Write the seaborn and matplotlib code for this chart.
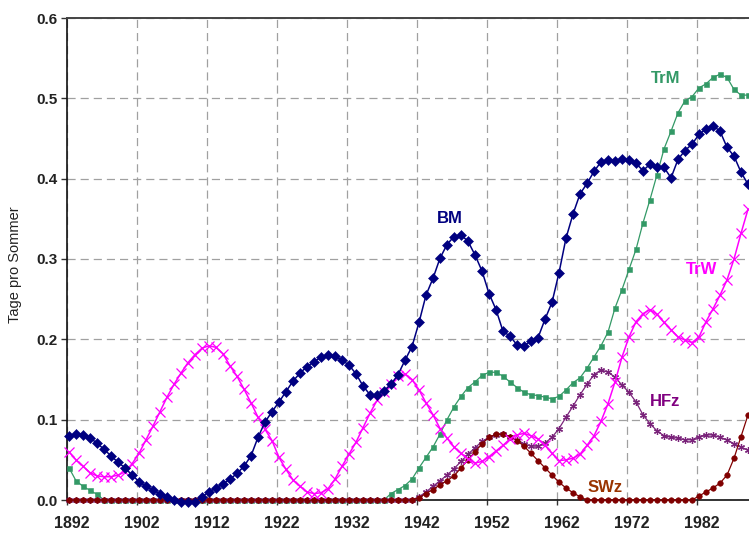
import matplotlib
matplotlib.use("Agg")
import matplotlib.pyplot as plt
import seaborn as sns
import pandas as pd

# ---- data: days per summer, one value per year 1892-1989 ----
years = list(range(1892, 1990))

bm = [
    0.080, 0.082, 0.081, 0.077, 0.071, 0.063, 0.055, 0.047, 0.040, 0.031,   # 1892-1901
    0.023, 0.017, 0.012, 0.008, 0.004, 0.000, -0.002, -0.002, -0.002, 0.004,  # 1902-1911
    0.010, 0.015, 0.020, 0.026, 0.033, 0.042, 0.055, 0.078, 0.097, 0.110,   # 1912-1921
    0.122, 0.135, 0.148, 0.158, 0.166, 0.172, 0.178, 0.181, 0.179, 0.174,   # 1922-1931
    0.168, 0.157, 0.142, 0.131, 0.131, 0.136, 0.144, 0.156, 0.174, 0.191,   # 1932-1941
    0.221, 0.255, 0.276, 0.301, 0.318, 0.328, 0.330, 0.322, 0.305, 0.285,   # 1942-1951
    0.257, 0.237, 0.210, 0.204, 0.193, 0.192, 0.198, 0.202, 0.225, 0.246,   # 1952-1961
    0.283, 0.326, 0.356, 0.381, 0.394, 0.409, 0.421, 0.423, 0.422, 0.425,   # 1962-1971
    0.423, 0.419, 0.410, 0.418, 0.414, 0.414, 0.401, 0.424, 0.435, 0.443,   # 1972-1981
    0.455, 0.462, 0.466, 0.459, 0.439, 0.428, 0.408, 0.393,                 # 1982-1989
]

trm = [
    0.040, 0.024, 0.017, 0.012, 0.007, 0.000, 0.000, 0.000, 0.000, 0.000,
    0.000, 0.000, 0.000, 0.000, 0.000, 0.000, 0.000, 0.000, 0.000, 0.000,
    0.000, 0.000, 0.000, 0.000, 0.000, 0.000, 0.000, 0.000, 0.000, 0.000,
    0.000, 0.000, 0.000, 0.000, 0.000, 0.000, 0.000, 0.000, 0.000, 0.000,
    0.000, 0.000, 0.000, 0.000, 0.000, 0.000, 0.008, 0.013, 0.018, 0.026,
    0.040, 0.053, 0.066, 0.082, 0.100, 0.116, 0.129, 0.140, 0.147, 0.155,
    0.159, 0.159, 0.154, 0.147, 0.140, 0.134, 0.131, 0.130, 0.128, 0.126,
    0.129, 0.137, 0.146, 0.152, 0.164, 0.178, 0.192, 0.209, 0.239, 0.262,
    0.287, 0.312, 0.345, 0.374, 0.405, 0.437, 0.459, 0.482, 0.497, 0.502,
    0.513, 0.518, 0.526, 0.530, 0.526, 0.511, 0.504, 0.504,
]

trw = [
    0.060, 0.050, 0.042, 0.034, 0.030, 0.029, 0.029, 0.031, 0.035, 0.045,
    0.058, 0.075, 0.092, 0.110, 0.128, 0.144, 0.158, 0.171, 0.181, 0.189,
    0.192, 0.190, 0.182, 0.167, 0.154, 0.138, 0.121, 0.103, 0.088, 0.074,
    0.053, 0.038, 0.025, 0.017, 0.010, 0.008, 0.009, 0.014, 0.026, 0.042,
    0.057, 0.072, 0.090, 0.108, 0.124, 0.135, 0.145, 0.154, 0.157, 0.150,
    0.137, 0.121, 0.106, 0.089, 0.077, 0.066, 0.058, 0.051, 0.046, 0.048,
    0.054, 0.061, 0.068, 0.076, 0.081, 0.083, 0.080, 0.076, 0.068, 0.058,
    0.049, 0.050, 0.052, 0.057, 0.068, 0.080, 0.098, 0.120, 0.147, 0.178,
    0.203, 0.222, 0.232, 0.237, 0.231, 0.221, 0.212, 0.203, 0.199, 0.196,
    0.203, 0.222, 0.238, 0.255, 0.274, 0.300, 0.332, 0.362,
]

hfz = [
    0.000, 0.000, 0.000, 0.000, 0.000, 0.000, 0.000, 0.000, 0.000, 0.000,
    0.000, 0.000, 0.000, 0.000, 0.000, 0.000, 0.000, 0.000, 0.000, 0.000,
    0.000, 0.000, 0.000, 0.000, 0.000, 0.000, 0.000, 0.000, 0.000, 0.000,
    0.000, 0.000, 0.000, 0.000, 0.000, 0.000, 0.000, 0.000, 0.000, 0.000,
    0.000, 0.000, 0.000, 0.000, 0.000, 0.000, 0.000, 0.000, 0.000, 0.000,
    0.004, 0.010, 0.017, 0.024, 0.031, 0.039, 0.048, 0.057, 0.065, 0.073,
    0.078, 0.081, 0.082, 0.079, 0.075, 0.070, 0.067, 0.067, 0.071, 0.078,
    0.089, 0.103, 0.117, 0.131, 0.144, 0.156, 0.162, 0.159, 0.153, 0.143,
    0.134, 0.122, 0.106, 0.095, 0.086, 0.080, 0.078, 0.077, 0.075, 0.075,
    0.079, 0.081, 0.081, 0.078, 0.075, 0.070, 0.066, 0.062,
]

swz = [
    0.000, 0.000, 0.000, 0.000, 0.000, 0.000, 0.000, 0.000, 0.000, 0.000,
    0.000, 0.000, 0.000, 0.000, 0.000, 0.000, 0.000, 0.000, 0.000, 0.000,
    0.000, 0.000, 0.000, 0.000, 0.000, 0.000, 0.000, 0.000, 0.000, 0.000,
    0.000, 0.000, 0.000, 0.000, 0.000, 0.000, 0.000, 0.000, 0.000, 0.000,
    0.000, 0.000, 0.000, 0.000, 0.000, 0.000, 0.000, 0.000, 0.000, 0.000,
    0.003, 0.008, 0.013, 0.019, 0.024, 0.030, 0.040, 0.050, 0.060, 0.070,
    0.078, 0.082, 0.082, 0.079, 0.074, 0.067, 0.058, 0.049, 0.040, 0.031,
    0.022, 0.015, 0.009, 0.004, 0.000, 0.000, 0.000, 0.000, 0.000, 0.000,
    0.000, 0.000, 0.000, 0.000, 0.000, 0.000, 0.000, 0.000, 0.000, 0.000,
    0.005, 0.010, 0.015, 0.021, 0.031, 0.052, 0.079, 0.106,
]

tick_years = [1892, 1902, 1912, 1922, 1932, 1942, 1952, 1962, 1972, 1982]
y_ticks = [0.0, 0.1, 0.2, 0.3, 0.4, 0.5, 0.6]

# label text, colour and anchor (year, value) for each curve
series_labels = {
    "BM":  ("#000080", 1946.4, 0.351),
    "TrM": ("#339966", 1977.2, 0.525),
    "TrW": ("#FF00FF", 1982.4, 0.287),
    "HFz": ("#800080", 1977.2, 0.122),
    "SWz": ("#993300", 1968.6, 0.016),
}

df = pd.DataFrame({"Jahr": years, "BM": bm, "TrM": trm, "TrW": trw,
                   "HFz": hfz, "SWz": swz})

# ---- styling ----
sns.set_style("white")
plt.rcParams["font.family"] = ["Liberation Sans", "DejaVu Sans"]

fig = plt.figure(figsize=(7.49, 5.33), dpi=100)
ax = fig.add_axes([67 / 749, 33 / 533, 682 / 749, 482 / 533])

line_styles = {
    "TrM": dict(color="#339966", marker="s", markersize=3.6, linewidth=0.9,
                markeredgewidth=0.4),
    "HFz": dict(color="#7A237A", marker=(6, 2, 0), markersize=5.0, linewidth=0.9,
                markeredgewidth=0.9),
    "SWz": dict(color="#800000", marker="o", markersize=4.0, linewidth=0.9,
                markeredgewidth=0.4),
    "TrW": dict(color="#FF00FF", marker="x", markersize=7.0, linewidth=1.1,
                markeredgewidth=0.9),
    "BM":  dict(color="#000080", marker="D", markersize=5.0, linewidth=1.1,
                markeredgewidth=0.4),
}

for i, name in enumerate(["TrM", "HFz", "SWz", "TrW", "BM"]):
    st = line_styles[name]
    sns.lineplot(data=df, x="Jahr", y=name, ax=ax, color=st["color"],
                 marker=st["marker"], markersize=st["markersize"],
                 linewidth=st["linewidth"], markeredgewidth=st["markeredgewidth"],
                 markeredgecolor=st["color"], markerfacecolor=st["color"],
                 clip_on=False, zorder=3 + i, legend=False)

# ---- axes ----
ax.set_xlim(1891.714, 1989.14)
ax.set_ylim(0.0, 0.6)

# gridlines and tick marks sit just left of each labelled year
ax.set_xticks([y - 0.28 for y in tick_years])
ax.set_xticklabels([])
ax.set_xticks([y + 0.35 for y in tick_years], minor=True)
ax.set_xticklabels([str(y) for y in tick_years], minor=True)
ax.tick_params(axis="x", which="major", direction="out", length=3.5, width=1,
               color="#333333", bottom=True)
ax.tick_params(axis="x", which="minor", length=0, pad=11.5, labelsize=11.5,
               labelcolor="#222222")
for lbl in ax.get_xticklabels(minor=True):
    lbl.set_fontweight("bold")

ax.set_yticks(y_ticks)
ax.set_yticklabels([f"{v:.1f}" for v in y_ticks])
ax.tick_params(axis="y", direction="out", length=4, width=1, color="#333333",
               left=True, pad=3, labelsize=11, labelcolor="#222222")
for lbl in ax.get_yticklabels():
    lbl.set_fontweight("bold")

ax.grid(True, which="major", axis="both", color="#A0A0A0",
        linestyle=(0, (6.5, 4.0)), linewidth=0.9)
ax.set_axisbelow(True)

for side in ["left", "bottom"]:
    ax.spines[side].set_color("#111111")
    ax.spines[side].set_linewidth(1.2)
ax.spines["top"].set_color("#444444")
ax.spines["top"].set_linewidth(1.4)
ax.spines["right"].set_visible(False)

ax.set_xlabel("")
ax.set_ylabel("Tage pro Sommer", fontsize=10.5, color="#222222")
ax.yaxis.set_label_coords(-0.066, 0.489)

for name, (col, xx, yy) in series_labels.items():
    ax.text(xx, yy, name, color=col, fontsize=12, fontweight="bold",
            ha="center", va="center", zorder=10)

fig.savefig("out.png", dpi=100)
